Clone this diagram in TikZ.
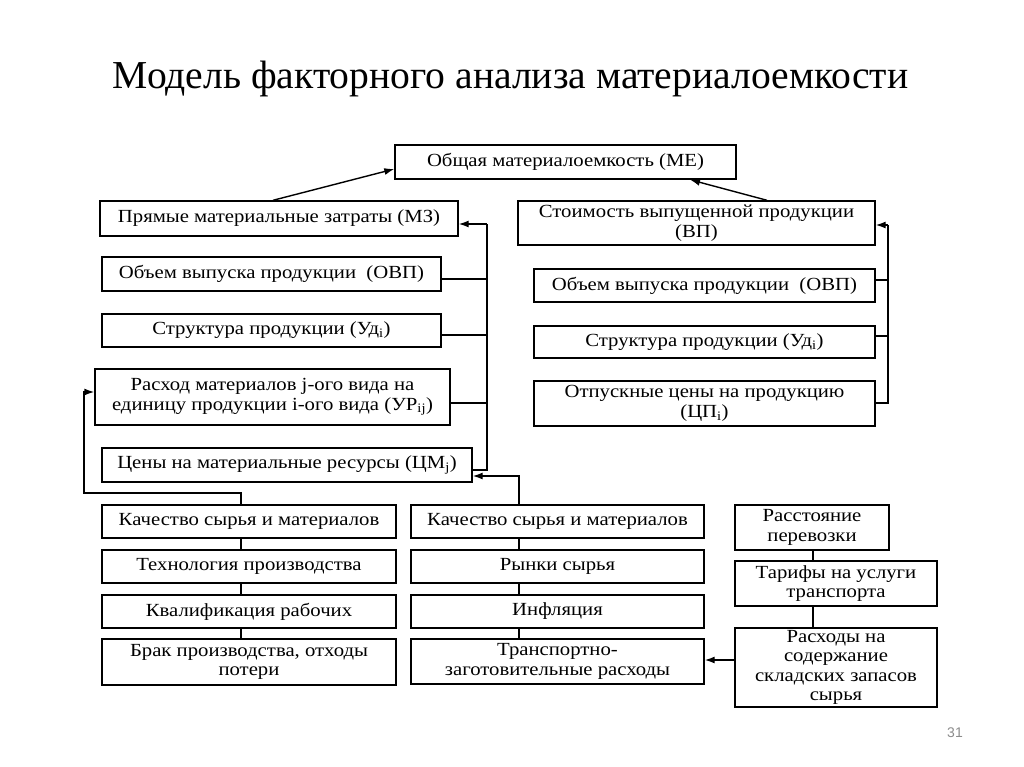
\documentclass[tikz,border=0pt]{standalone}
\usepackage{fontspec}
\setmainfont{Liberation Serif}
\newfontfamily\boxfont[FakeStretch=1.12]{Liberation Serif}
\newfontfamily\numfont{Liberation Sans}
\usetikzlibrary{arrows.meta,calc}
\begin{document}
\begin{tikzpicture}[x=1pt,y=-1pt,
  box/.style={draw, line width=1.4pt, inner sep=0pt, align=center,
    font=\boxfont\fontsize{18.5}{19.5}\selectfont},
  conn/.style={line width=1.4pt},
  arr/.style={line width=1.4pt, -{Latex[length=10pt,width=7pt]}}]
\useasboundingbox (0,0) rectangle (1024,767);
\fill[white] (0,0) rectangle (1024,767);
\node[anchor=base, font=\fontsize{39.6}{44}\selectfont] (title) at (510.5,89) {Модель факторного анализа материалоемкости};
% top
\node[box, minimum width=341pt, minimum height=34pt] (ME) at (565.5,162) {Общая материалоемкость (МЕ)};
\node[box, minimum width=358pt, minimum height=35pt] (MZ) at (279,218.5) {Прямые материальные затраты (МЗ)};
\node[box, minimum width=357pt, minimum height=44pt] (VP) at (696.5,223) {Стоимость выпущенной продукции\\(ВП)};
% left column
\node[box, minimum width=339pt, minimum height=34pt] (OVPL) at (271.5,274) {Объем выпуска продукции\ \ (ОВП)};
\node[box, minimum width=339pt, minimum height=33pt] (UdL) at (271.5,330.5) {Структура продукции (Уд\textsubscript{i})};
\node[box, minimum width=355pt, minimum height=56pt] (UR) at (272.5,397) {Расход материалов j-ого вида на\\единицу продукции i-ого вида (УР\textsubscript{ij})};
\node[box, minimum width=370pt, minimum height=34pt] (CM) at (287,465) {Цены на материальные ресурсы (ЦМ\textsubscript{j})};
% right column
\node[box, minimum width=341pt, minimum height=33pt] (OVPR) at (704.5,285.5) {Объем выпуска продукции\ \ (ОВП)};
\node[box, minimum width=341pt, minimum height=32pt] (UdR) at (704.5,342) {Структура продукции (Уд\textsubscript{i})};
\node[box, minimum width=341pt, minimum height=45pt] (CP) at (704.5,403.5) {Отпускные цены на продукцию\\(ЦП\textsubscript{i})};
% bottom left
\node[box, minimum width=294pt, minimum height=33pt] (K1) at (249,521.5) {Качество сырья и материалов};
\node[box, minimum width=294pt, minimum height=33pt] (T) at (249,566.5) {Технология производства};
\node[box, minimum width=294pt, minimum height=33pt] (Kv) at (249,611.5) {Квалификация рабочих};
\node[box, minimum width=294pt, minimum height=46pt] (B) at (249,662) {Брак производства, отходы\\потери};
% bottom middle
\node[box, minimum width=293pt, minimum height=33pt] (K2) at (557.5,521.5) {Качество сырья и материалов};
\node[box, minimum width=293pt, minimum height=33pt] (R) at (557.5,566.5) {Рынки сырья};
\node[box, minimum width=293pt, minimum height=33pt] (I) at (557.5,611.5) {Инфляция};
\node[box, minimum width=293pt, minimum height=45pt] (TZ) at (557.5,661.5) {Транспортно-\\заготовительные расходы};
% bottom right
\node[box, minimum width=154pt, minimum height=45pt] (Rs) at (812,527.5) {Расстояние\\перевозки};
\node[box, minimum width=202pt, minimum height=45pt] (Tr) at (836,583.5) {Тарифы на услуги\\транспорта};
\node[box, minimum width=202pt, minimum height=79pt] (Rx) at (836,667.5) {Расходы на\\содержание\\складских запасов\\сырья};
% page number
\node[font=\numfont\fontsize{14}{16}\selectfont, text=black!45] (pg) at (955,733) {31};
% helper coordinates
\coordinate (lc) at (241,0);
\coordinate (mc) at (519,0);
\coordinate (rc) at (813,0);
\coordinate (lbus) at (487,0);
\coordinate (rbus) at (888,0);
\coordinate (fb) at (84,0);
\coordinate (mzArr) at (0,224);
\coordinate (vpArr) at (0,225);
\coordinate (cmIn) at (0,470);
\coordinate (cmArr) at (0,476);
\coordinate (urArr) at (0,392);
\coordinate (k1up) at (0,493);
\coordinate (ovplY) at (0,279);
\coordinate (udlY) at (0,335);
\coordinate (urY) at (0,403);
\coordinate (ovprY) at (0,280);
\coordinate (udrY) at (0,336);
\coordinate (cpY) at (0,403);
\coordinate (tzY) at (0,660);
\coordinate (mzX) at (273,0);
\coordinate (meY) at (0,169);
\coordinate (vpX) at (767,0);
\coordinate (meX) at (690,0);
% arrows to ME
\draw[arr] (MZ.north -| mzX) -- (ME.west |- meY);
\draw[arr] (VP.north -| vpX) -- (ME.south -| meX);
% left bus
\draw[conn] (CM.east |- cmIn) -- (lbus |- cmIn) -- (lbus |- mzArr);
\draw[arr] (lbus |- mzArr) -- (MZ.east |- mzArr);
\draw[conn] (OVPL.east |- ovplY) -- (lbus |- ovplY);
\draw[conn] (UdL.east |- udlY) -- (lbus |- udlY);
\draw[conn] (UR.east |- urY) -- (lbus |- urY);
% right bus
\draw[conn] (CP.east |- cpY) -- (rbus |- cpY) -- (rbus |- vpArr);
\draw[arr] (rbus |- vpArr) -- (VP.east |- vpArr);
\draw[conn] (OVPR.east |- ovprY) -- (rbus |- ovprY);
\draw[conn] (UdR.east |- udrY) -- (rbus |- udrY);
% bottom to middle
\draw[arr] (K2.north -| mc) -- (mc |- cmArr) -- (CM.east |- cmArr);
\draw[arr] (K1.north -| lc) -- (lc |- k1up) -- (fb |- k1up) -- (fb |- urArr) -- (UR.west |- urArr);
% chains
\draw[conn] (K1.south -| lc) -- (T.north -| lc);
\draw[conn] (T.south -| lc) -- (Kv.north -| lc);
\draw[conn] (Kv.south -| lc) -- (B.north -| lc);
\draw[conn] (K2.south -| mc) -- (R.north -| mc);
\draw[conn] (R.south -| mc) -- (I.north -| mc);
\draw[conn] (I.south -| mc) -- (TZ.north -| mc);
\draw[conn] (Rs.south -| rc) -- (Tr.north -| rc);
\draw[conn] (Tr.south -| rc) -- (Rx.north -| rc);
\draw[arr] (Rx.west |- tzY) -- (TZ.east |- tzY);
\end{tikzpicture}
\end{document}
